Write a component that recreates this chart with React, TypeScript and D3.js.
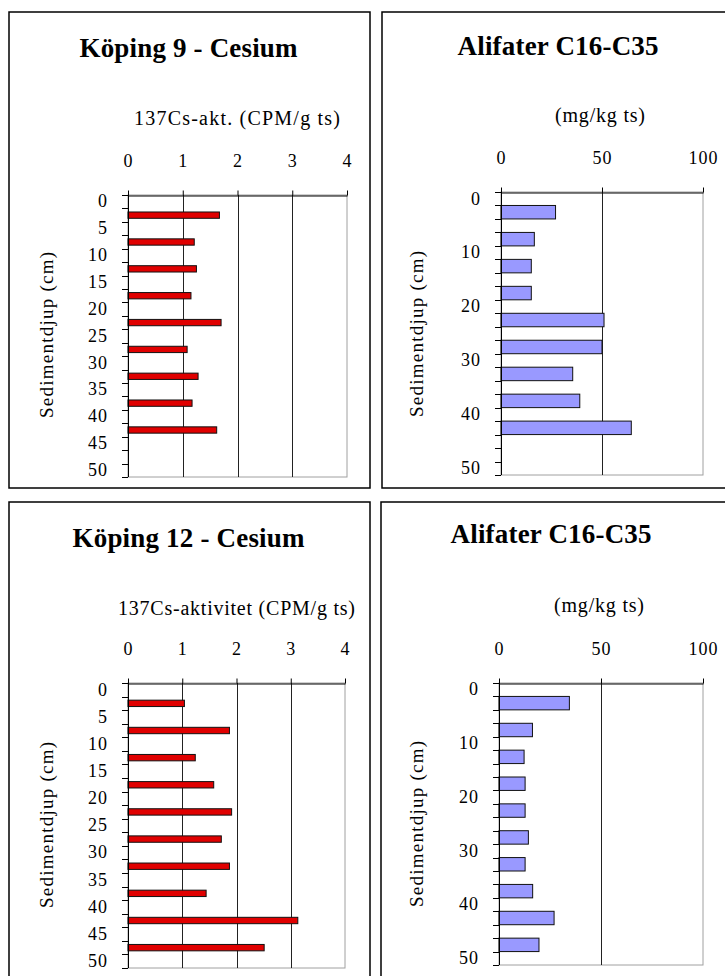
import React, { useEffect, useRef } from 'react';
import * as d3 from 'd3';

// depth categories (cm) of the category axis, 2.5 cm steps
const depthCategories = [0, 2.5, 5, 7.5, 10, 12.5, 15, 17.5, 20, 22.5, 25, 27.5, 30, 32.5, 35, 37.5, 40, 42.5, 45, 47.5, 50];
const cesiumDepthLabels = [0, 5, 10, 15, 20, 25, 30, 35, 40, 45, 50];
const alifaterDepthLabels = [0, 10, 20, 30, 40, 50];

const cesiumTicks = [0, 1, 2, 3, 4];
const alifaterTicks = [0, 50, 100];

// Köping 9
const koping9Depths = [2.5, 7.5, 12.5, 17.5, 22.5, 27.5, 32.5, 37.5, 42.5];
const koping9Cesium = [1.67, 1.21, 1.25, 1.15, 1.7, 1.08, 1.28, 1.17, 1.62];
const koping9Alifater = [27, 16.5, 15, 15, 51, 50, 35.5, 39, 64.5];

// Köping 12
const koping12Depths = [2.5, 7.5, 12.5, 17.5, 22.5, 27.5, 32.5, 37.5, 42.5, 47.5];
const koping12Cesium = [1.04, 1.87, 1.24, 1.58, 1.91, 1.72, 1.87, 1.44, 3.13, 2.51];
const koping12Alifater = [34.5, 16.4, 12.3, 12.8, 12.8, 14.4, 12.8, 16.5, 27, 19.6];

const serif = '"Times New Roman", "Liberation Serif", serif';

const panels = [
    {
        title: 'Köping 9 - Cesium', titleX: 188.5, titleY: 57, titleW: 218,
        unit: '137Cs-akt. (CPM/g ts)', unitX: 237, unitY: 125, unitW: 206,
        box: [9, 12, 361, 476], plot: { left: 128, right: 347, top: 195, bottom: 477 },
        domain: [0, 4], ticks: cesiumTicks, labels: cesiumDepthLabels,
        depths: koping9Depths, values: koping9Cesium,
        fill: '#e00000', barRatio: 0.47, yTitleX: 53, yTitleY: 418
    },
    {
        title: 'Alifater C16-C35', titleX: 558, titleY: 55, titleW: 201,
        unit: '(mg/kg ts)', unitX: 600, unitY: 122, unitW: 90,
        box: [382, 12, 400, 476], plot: { left: 501, right: 703, top: 192, bottom: 475 },
        domain: [0, 100], ticks: alifaterTicks, labels: alifaterDepthLabels,
        depths: koping9Depths, values: koping9Alifater,
        fill: '#9999ff', barRatio: 1, yTitleX: 423, yTitleY: 417
    },
    {
        title: 'Köping 12 - Cesium', titleX: 188.5, titleY: 547, titleW: 232,
        unit: '137Cs-aktivitet (CPM/g ts)', unitX: 236.5, unitY: 615, unitW: 237,
        box: [9, 502, 361, 500], plot: { left: 128, right: 345, top: 683, bottom: 968 },
        domain: [0, 4], ticks: cesiumTicks, labels: cesiumDepthLabels,
        depths: koping12Depths, values: koping12Cesium,
        fill: '#e00000', barRatio: 0.47, yTitleX: 53, yTitleY: 908
    },
    {
        title: 'Alifater C16-C35', titleX: 551, titleY: 543, titleW: 201,
        unit: '(mg/kg ts)', unitX: 599, unitY: 612, unitW: 90,
        box: [381, 502, 400, 500], plot: { left: 499, right: 703, top: 683, bottom: 965 },
        domain: [0, 100], ticks: alifaterTicks, labels: alifaterDepthLabels,
        depths: koping12Depths, values: koping12Alifater,
        fill: '#9999ff', barRatio: 1, yTitleX: 423, yTitleY: 907
    }
];

function drawPanel(svg: any, p: any) {
    const g = svg.append('g');
    const { left, right, top, bottom } = p.plot;

    g.append('rect')
        .attr('x', p.box[0]).attr('y', p.box[1])
        .attr('width', p.box[2]).attr('height', p.box[3])
        .attr('fill', '#fff').attr('stroke', '#000').attr('stroke-width', 1.5);

    const x = d3.scaleLinear().domain(p.domain).range([left, right]);
    const y = d3.scaleBand<string>()
        .domain(depthCategories.map(String))
        .range([top, bottom])
        .padding(0);
    const bw = y.bandwidth();

    // plot area border (grey)
    g.append('rect')
        .attr('x', left).attr('y', top)
        .attr('width', right - left).attr('height', bottom - top)
        .attr('fill', 'none').attr('stroke', '#a0a0a0');

    // vertical gridlines
    g.selectAll('.grid')
        .data(p.ticks.slice(1, -1))
        .enter().append('line')
        .attr('x1', (d: number) => Math.round(x(d)) + 0.5)
        .attr('x2', (d: number) => Math.round(x(d)) + 0.5)
        .attr('y1', top).attr('y2', bottom)
        .attr('stroke', '#222');

    // bars
    g.selectAll('.bar')
        .data(p.depths.map((d: number, i: number) => ({ depth: d, value: p.values[i] })))
        .enter().append('rect')
        .attr('x', x(0))
        .attr('y', (d: any) => (y(String(d.depth)) as number) + bw * (1 - p.barRatio) / 2)
        .attr('width', (d: any) => x(d.value) - x(0))
        .attr('height', bw * p.barRatio)
        .attr('fill', p.fill)
        .attr('stroke', '#111')
        .attr('stroke-width', 1);

    // value axis on top
    const xAxis = d3.axisTop(x)
        .tickValues(p.ticks)
        .tickSize(5)
        .tickSizeOuter(0)
        .tickPadding(24)
        .tickFormat(d3.format('d'));
    const xg = g.append('g')
        .attr('transform', `translate(0,${top + 0.5})`)
        .call(xAxis);
    xg.selectAll('line').attr('stroke', '#000');
    xg.select('.domain').attr('stroke', '#000');
    xg.selectAll('text')
        .attr('font-family', serif)
        .attr('font-size', 18)
        .attr('letter-spacing', 1)
        .attr('fill', '#000');

    // category axis on the left
    g.append('line')
        .attr('x1', left + 0.5).attr('x2', left + 0.5)
        .attr('y1', top).attr('y2', bottom)
        .attr('stroke', '#000');

    const bounds = depthCategories.map(d => y(String(d)) as number).concat([bottom]);
    g.selectAll('.ytick')
        .data(bounds)
        .enter().append('line')
        .attr('x1', left - 6).attr('x2', left)
        .attr('y1', (d: number) => Math.round(d) + 0.5)
        .attr('y2', (d: number) => Math.round(d) + 0.5)
        .attr('stroke', '#000');

    const yAxis = d3.axisLeft(y)
        .tickValues(p.labels.map(String))
        .tickSize(0)
        .tickPadding(20);
    const yg = g.append('g')
        .attr('transform', `translate(${left},0)`)
        .call(yAxis);
    yg.select('.domain').remove();
    yg.selectAll('text')
        .attr('font-family', serif)
        .attr('font-size', 18)
        .attr('letter-spacing', 1)
        .attr('fill', '#000');

    // titles
    g.append('text')
        .attr('x', p.titleX).attr('y', p.titleY)
        .attr('text-anchor', 'middle')
        .attr('font-family', serif)
        .attr('font-weight', 'bold')
        .attr('font-size', 27)
        .attr('textLength', p.titleW)
        .attr('lengthAdjust', 'spacing')
        .text(p.title);

    g.append('text')
        .attr('x', p.unitX).attr('y', p.unitY)
        .attr('text-anchor', 'middle')
        .attr('font-family', serif)
        .attr('font-size', 20)
        .attr('textLength', p.unitW)
        .attr('lengthAdjust', 'spacing')
        .text(p.unit);

    g.append('text')
        .attr('transform', `translate(${p.yTitleX},${p.yTitleY}) rotate(-90)`)
        .attr('text-anchor', 'start')
        .attr('font-family', serif)
        .attr('font-size', 19)
        .attr('textLength', 166)
        .attr('lengthAdjust', 'spacing')
        .text('Sedimentdjup (cm)');
}

export default function App() {
    const ref = useRef<SVGSVGElement>(null);

    useEffect(() => {
        if (!ref.current) return;
        const svg = d3.select(ref.current);
        svg.selectAll('*').remove();
        svg.append('rect').attr('width', 725).attr('height', 976).attr('fill', '#fff');
        panels.forEach(p => drawPanel(svg, p));
    }, []);

    return (
        <svg
            ref={ref}
            width={725}
            height={976}
            style={{ position: 'absolute', top: 0, left: 0, display: 'block' }}
        />
    );
}
